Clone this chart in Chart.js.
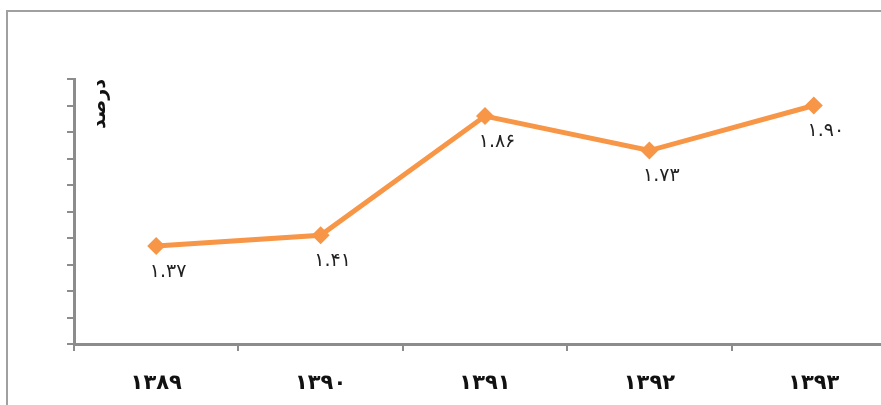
<!DOCTYPE html>
<html>
<head>
<meta charset="utf-8">
<script src="https://cdn.jsdelivr.net/npm/chart.js@4.4.1/dist/chart.umd.min.js"></script>
<style>
	html, body { margin: 0; padding: 0; background: #fff; overflow: hidden; }
	#wrap { position: absolute; left: 0; top: 0; width: 881px; height: 405px; overflow: hidden; }
</style>
</head>
<body>
<div id="wrap"><canvas id="chart" width="896" height="405"></canvas></div>
<script>
const years = ["۱۳۸۹", "۱۳۹۰", "۱۳۹۱", "۱۳۹۲", "۱۳۹۳"];
const values = [1.37, 1.41, 1.86, 1.73, 1.9];
const pointLabels = ["۱.۳۷", "۱.۴۱", "۱.۸۶", "۱.۷۳", "۱.۹۰"];
const yTitle = "درصد";

const orange = "#F79646";
const axisGray = "#8c8c8c";
const faFont = "'DejaVu Sans', sans-serif";

// قاب دور نمودار: فقط لبه چپ و بالا در تصویر دیده می‌شود
const framePlugin = {
	id: "framePlugin",
	beforeDraw(chart) {
		const { ctx, width, height } = chart;
		ctx.save();
		ctx.strokeStyle = "#a0a0a0";
		ctx.lineWidth = 2;
		ctx.beginPath();
		ctx.moveTo(7, height + 5);
		ctx.lineTo(7, 11);
		ctx.lineTo(width + 20, 11);
		ctx.stroke();
		ctx.restore();
	},
};

// برچسب مقادیر زیر هر نقطه
const valueLabels = {
	id: "valueLabels",
	afterDatasetsDraw(chart) {
		const { ctx } = chart;
		const meta = chart.getDatasetMeta(0);
		ctx.save();
		ctx.font = "19px " + faFont;
		ctx.fillStyle = "#222";
		ctx.textAlign = "center";
		ctx.textBaseline = "middle";
		meta.data.forEach((pt, i) => {
			ctx.fillText(pointLabels[i], pt.x + 12, pt.y + 26);
		});
		ctx.restore();
	},
};

// عنوان محور عمودی داخل ناحیه نمودار
const yTitlePlugin = {
	id: "yTitlePlugin",
	afterDraw(chart) {
		const { ctx, chartArea } = chart;
		ctx.save();
		ctx.translate(chartArea.left + 26, chartArea.top + 25);
		ctx.rotate(-Math.PI / 2);
		ctx.font = "bold 19px " + faFont;
		ctx.fillStyle = "#111";
		ctx.textAlign = "center";
		ctx.textBaseline = "middle";
		ctx.fillText(yTitle, 0, 0);
		ctx.restore();
	},
};

new Chart(document.getElementById("chart"), {
	type: "line",
	data: {
		labels: years,
		datasets: [
			{
				data: values,
				borderColor: orange,
				backgroundColor: orange,
				borderWidth: 5,
				pointStyle: "rectRot",
				pointRadius: 9,
				pointHoverRadius: 9,
				pointBorderWidth: 0,
				tension: 0,
			},
		],
	},
	options: {
		responsive: false,
		animation: false,
		events: [],
		layout: { autoPadding: false, padding: { top: 79, left: 0, right: 0, bottom: 0 } },
		plugins: {
			legend: { display: false },
			tooltip: { enabled: false },
		},
		scales: {
			x: {
				offset: true,
				grid: {
					offset: true,
					drawOnChartArea: false,
					color: axisGray,
					lineWidth: 2,
					tickLength: 7,
				},
				border: { color: axisGray, width: 3 },
				ticks: {
					color: "#111",
					padding: 20,
					font: { family: faFont, size: 21, weight: "bold" },
				},
				afterFit: (scale) => { scale.height = 61; },
			},
			y: {
				min: 1,
				max: 2,
				grid: {
					drawOnChartArea: false,
					color: axisGray,
					lineWidth: 2,
					tickLength: 7,
				},
				border: { color: axisGray, width: 3 },
				ticks: { stepSize: 0.1, display: false },
				afterFit: (scale) => { scale.width = 74; },
			},
		},
	},
	plugins: [framePlugin, valueLabels, yTitlePlugin],
});
</script>
</body>
</html>
